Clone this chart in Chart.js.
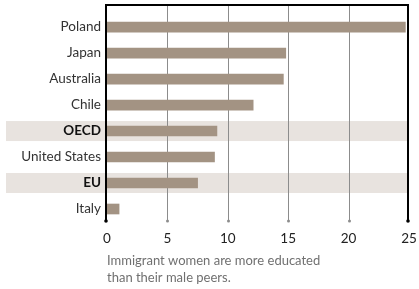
<!DOCTYPE html>
<html>
<head>
<meta charset="utf-8">
<script src="https://cdn.jsdelivr.net/npm/chart.js@4"></script>
<style>
  body { margin: 0; background: #fff; }
  canvas { display: block; }
</style>
</head>
<body>
<canvas id="grafico" width="419" height="289"></canvas>
<script>
var paises = ["Poland", "Japan", "Australia", "Chile", "OECD", "United States", "EU", "Italy"];
var valores = [24.7, 14.8, 14.6, 12.1, 9.1, 8.9, 7.5, 1.0];
var destaques = ["OECD", "EU"];
var ticksX = [0, 5, 10, 15, 20, 25];
var legenda = ["Immigrant women are more educated", "than their male peers."];

var fonte = "Lato, 'Open Sans', sans-serif";

// faixas cinza, grade e moldura
var molduraPlugin = {
    id: 'moldura',
    beforeDraw: function (chart) {
        var c = chart.ctx, a = chart.chartArea;
        var x = chart.scales.x, y = chart.scales.y;
        c.save();
        c.fillStyle = '#e8e3df';
        destaques.forEach(function (d) {
            var py = y.getPixelForValue(paises.indexOf(d));
            c.fillRect(6, py - 10, a.right - 6, 20);
        });
        c.strokeStyle = '#8c8c8c';
        c.fillStyle = '#8c8c8c';
        c.lineWidth = 1;
        ticksX.forEach(function (t) {
            if (t === 0 || t === 25) return;
            var px = Math.round(x.getPixelForValue(t)) + 0.5;
            c.beginPath();
            c.moveTo(px, 5);
            c.lineTo(px, a.bottom - 1);
            c.stroke();
            c.beginPath();
            c.arc(px, a.bottom - 1, 1.5, 0, Math.PI * 2);
            c.fill();
        });
        c.restore();
    },
    afterDatasetsDraw: function (chart) {
        var c = chart.ctx, a = chart.chartArea;
        var x = chart.scales.x;
        var x0 = x.getPixelForValue(0) - 1, x1 = x.getPixelForValue(25) - 1;
        c.save();
        c.strokeStyle = '#000';
        c.lineWidth = 2;
        c.beginPath();
        c.moveTo(x0, a.bottom - 1);
        c.lineTo(x0, 5);
        c.lineTo(x1, 5);
        c.lineTo(x1, a.bottom - 1);
        c.stroke();
        c.fillStyle = '#000';
        [x0, x1].forEach(function (px) {
            c.beginPath();
            c.arc(px, a.bottom - 1, 1.8, 0, Math.PI * 2);
            c.fill();
        });
        c.fillStyle = '#707070';
        c.font = '13px ' + fonte;
        c.textBaseline = 'middle';
        c.textAlign = 'left';
        c.fillText(legenda[0], x0 + 1, 261);
        c.fillText(legenda[1], x0 + 1, 278);
        c.restore();
    }
};

var ctx = document.getElementById("grafico").getContext("2d");

var grafico = new Chart(ctx, {
    type: 'bar',
    data: {
        labels: paises,
        datasets: [{
            data: valores,
            backgroundColor: '#a39383',
            barThickness: 10
        }]
    },
    options: {
        indexAxis: 'y',
        responsive: false,
        animation: false,
        layout: { padding: { top: 11, right: 10, left: 0, bottom: 0 } },
        scales: {
            x: {
                min: 0,
                max: 25,
                grid: { display: false, drawTicks: false },
                border: { display: false },
                afterFit: function (s) {
                    s.height = 67;
                    s.paddingRight = 0;
                    s.paddingLeft = 0;
                },
                afterBuildTicks: function (s) {
                    s.ticks = ticksX.map(function (v) { return { value: v }; });
                },
                ticks: {
                    padding: 9,
                    color: '#222',
                    font: { family: fonte, size: 13.5 }
                }
            },
            y: {
                grid: { display: false, drawTicks: false },
                border: { display: false },
                afterFit: function (s) { s.width = 107; },
                ticks: {
                    padding: 6,
                    color: function (c) {
                        return destaques.indexOf(paises[c.index]) >= 0 ? '#111' : '#333';
                    },
                    font: function (c) {
                        var b = destaques.indexOf(paises[c.index]) >= 0;
                        return { family: fonte, size: 13.5, weight: b ? 'bold' : 'normal' };
                    }
                }
            }
        },
        plugins: {
            legend: { display: false },
            tooltip: { enabled: false }
        }
    },
    plugins: [molduraPlugin]
});
</script>
</body>
</html>
